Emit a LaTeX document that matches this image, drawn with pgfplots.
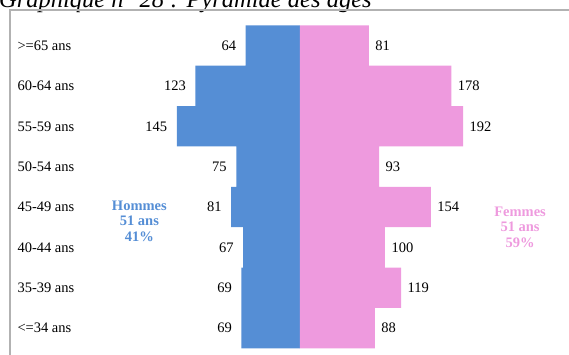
\documentclass[border=0pt]{standalone}
\usepackage{fontspec}
\setmainfont{Liberation Serif}
\usepackage{pgfplots}
\pgfplotsset{compat=1.18}
\definecolor{hblue}{HTML}{558ED5}
\definecolor{fpink}{HTML}{EE9ADE}
\begin{document}
\begin{tikzpicture}[x=1pt,y=1pt]
\useasboundingbox (0,0) rectangle (569,354);
\clip (0,0) rectangle (569,354);
% title, cut at the top as in the scan
\node[anchor=base west, inner sep=0, font=\itshape\fontsize{24.5}{28}\selectfont] at (-1,346.5) {Graphique n° 28 : Pyramide des âges};
\draw[gray!60, line width=1.2] (10,-5) -- (10,344) -- (580,344);
\begin{axis}[
  at={(20,14)}, anchor=south west,
  scale only axis, width=549pt, height=323pt,
  xmin=-333, xmax=313, ymin=-0.5, ymax=7.5,
  xbar, bar width=1, bar shift=0pt,
  axis line style={draw=none},
  major tick length=0,
  xtick=\empty,
  ytick={0,...,7},
  yticklabels={{<=34 ans},{35-39 ans},{40-44 ans},{45-49 ans},{50-54 ans},{55-59 ans},{60-64 ans},{>=65 ans}},
  yticklabel style={anchor=west, xshift=-3pt},
  tick label style={font=\fontsize{14.5}{16}\selectfont},
  nodes near coords,
  point meta=explicit symbolic,
  every node near coord/.append style={font=\fontsize{14.5}{16}\selectfont, text=black},
]
\addplot[fill=hblue, draw=none, every node near coord/.append style={anchor=east, xshift=-6pt}]
  coordinates {(-69,0) [69] (-69,1) [69] (-67,2) [67] (-81,3) [81] (-75,4) [75] (-145,5) [145] (-123,6) [123] (-64,7) [64]};
\addplot[fill=fpink, draw=none, every node near coord/.append style={anchor=west, xshift=3pt}]
  coordinates {(88,0) [88] (119,1) [119] (100,2) [100] (154,3) [154] (93,4) [93] (192,5) [192] (178,6) [178] (81,7) [81]};
\node[align=center, text=hblue, font=\bfseries\fontsize{14.5}{15.5}\selectfont] at (axis cs:-189,2.65) {Hommes\\51 ans\\41\%};
\node[align=center, text=fpink, font=\bfseries\fontsize{14.5}{15.5}\selectfont] at (axis cs:259,2.5) {Femmes\\51 ans\\59\%};
\end{axis}
\end{tikzpicture}
\end{document}
